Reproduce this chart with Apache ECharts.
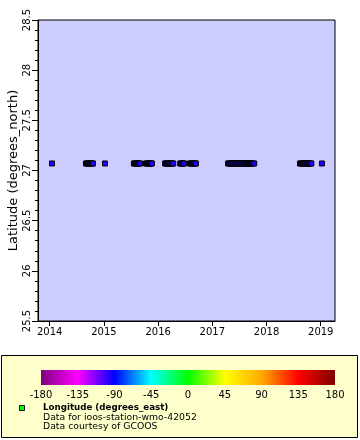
<!DOCTYPE html>
<html><head><meta charset="utf-8">
<script src="https://cdn.jsdelivr.net/npm/echarts@6/dist/echarts.min.js"></script>
<style>html,body{margin:0;padding:0;background:#fff}#c{width:360px;height:440px}</style>
</head><body><div id="c"></div>
<script>
const times = [
  '2014-01-16',
  '2014-09-02','2014-09-09','2014-09-16','2014-09-23','2014-09-30','2014-10-07','2014-10-14','2014-10-19',
  '2015-01-08',
  '2015-07-22','2015-07-29','2015-08-05','2015-08-12','2015-08-19','2015-08-26','2015-09-01',
  '2015-10-11','2015-10-18','2015-10-25','2015-11-01','2015-11-08','2015-11-15','2015-11-20',
  '2016-02-17','2016-02-24','2016-03-02','2016-03-09','2016-03-16','2016-03-23','2016-03-30','2016-04-06','2016-04-12',
  '2016-05-29','2016-06-05','2016-06-12','2016-06-19','2016-06-25',
  '2016-08-03','2016-08-10','2016-08-17','2016-08-24','2016-08-31','2016-09-07','2016-09-12',
  '2017-04-17','2017-04-24','2017-05-01','2017-05-08','2017-05-15','2017-05-22','2017-05-29','2017-06-05','2017-06-12',
  '2017-06-19','2017-06-26','2017-07-03','2017-07-10','2017-07-17','2017-07-24','2017-07-31','2017-08-07','2017-08-14',
  '2017-08-21','2017-08-28','2017-09-04','2017-09-11','2017-09-18','2017-09-25','2017-10-02','2017-10-10',
  '2018-08-14','2018-08-21','2018-08-28','2018-09-04','2018-09-11','2018-09-18','2018-09-25','2018-10-02','2018-10-09',
  '2018-10-16','2018-10-23','2018-10-30',
  '2019-01-09'
];
const latitudes = [
  27.07,
  27.07,27.07,27.07,27.07,27.07,27.07,27.07,27.07,
  27.07,
  27.07,27.07,27.07,27.07,27.07,27.07,27.07,
  27.07,27.07,27.07,27.07,27.07,27.07,27.07,
  27.07,27.07,27.07,27.07,27.07,27.07,27.07,27.07,27.07,
  27.07,27.07,27.07,27.07,27.07,
  27.07,27.07,27.07,27.07,27.07,27.07,27.07,
  27.07,27.07,27.07,27.07,27.07,27.07,27.07,27.07,27.07,
  27.07,27.07,27.07,27.07,27.07,27.07,27.07,27.07,27.07,
  27.07,27.07,27.07,27.07,27.07,27.07,27.07,27.07,
  27.07,27.07,27.07,27.07,27.07,27.07,27.07,27.07,27.07,
  27.07,27.07,27.07,
  27.07
];
const yearTicks = [2014, 2015, 2016, 2017, 2018, 2019];
const xRange = ['2013-10-14', '2019-04-07'];
const lonTicks = [-180, -135, -90, -45, 0, 45, 90, 135, 180];
const paletteColors = ['#800080','#ff00ff','#0000ff','#00ffff','#00ff00','#ffff00','#ffaa00','#ff0000','#800000'];
const legendTitle = 'Longitude (degrees_east)';
const legendLines = ['Data for ioos-station-wmo-42052', 'Data courtesy of GCOOS'];
const yTitle = 'Latitude (degrees_north)';

// date string -> decimal year
function decYear(s) {
  const [y, m, d] = s.split('-').map(Number);
  const start = Date.UTC(y, 0, 1), end = Date.UTC(y + 1, 0, 1);
  return y + (Date.UTC(y, m - 1, d) - start) / (end - start);
}

const FONT = 'DejaVu Sans';
const chart = echarts.init(document.getElementById('c'), null, {renderer: 'canvas'});
const gradient = new echarts.graphic.LinearGradient(0, 0, 1, 0,
  lonTicks.map((v, i) => ({offset: (v + 180) / 360, color: paletteColors[i]})));

chart.setOption({
  animation: false,
  backgroundColor: '#ffffff',
  textStyle: {fontFamily: FONT},
  grid: [
    {left: 38, top: 20, right: 25, bottom: 119, show: true, backgroundColor: '#ccccff', borderColor: '#000', borderWidth: 1, containLabel: false, outerBoundsMode: 'none'},
    {left: 41, top: 370, width: 294, height: 15, show: true, backgroundColor: gradient, borderColor: '#000', borderWidth: 0, containLabel: false, outerBoundsMode: 'none'}
  ],
  xAxis: [
    {
      type: 'value', gridIndex: 0,
      min: decYear(xRange[0]), max: decYear(xRange[1]),
      axisLine: {show: true, lineStyle: {color: '#000', width: 1}},
      axisTick: {show: true, length: 5, lineStyle: {color: '#000'}, customValues: yearTicks},
      axisLabel: {color: '#000', fontSize: 10, fontFamily: FONT, margin: 6, customValues: yearTicks,
        formatter: v => String(Math.round(v))},
      splitLine: {show: false}
    },
    {
      type: 'value', gridIndex: 1, min: -180, max: 180, interval: 45,
      axisLine: {show: false}, axisTick: {show: false}, splitLine: {show: false},
      axisLabel: {color: '#000', fontSize: 10, fontFamily: FONT, margin: 5}
    }
  ],
  yAxis: [
    {
      type: 'value', gridIndex: 0, min: 25.5, max: 28.5, interval: 0.5,
      name: yTitle, nameLocation: 'middle', nameRotate: 90, nameGap: 18, nameMoveOverlap: false,
      nameTextStyle: {color: '#000', fontSize: 13, fontFamily: FONT},
      axisLine: {show: true, lineStyle: {color: '#000', width: 1}},
      axisTick: {show: true, length: 6, lineStyle: {color: '#000'}},
      minorTick: {show: true, splitNumber: 5, length: 3, lineStyle: {color: '#000'}},
      axisLabel: {color: '#000', fontSize: 10, fontFamily: FONT, rotate: 90, margin: 6},
      splitLine: {show: false}, minorSplitLine: {show: false}
    },
    {type: 'value', gridIndex: 1, min: 0, max: 1, show: false}
  ],
  series: [{
    type: 'scatter', xAxisIndex: 0, yAxisIndex: 0,
    symbol: 'rect', symbolSize: 5,
    itemStyle: {color: '#2000ff', borderColor: '#000', borderWidth: 1, opacity: 1},
    emphasis: {disabled: true},
    data: times.map((t, i) => [decYear(t), latitudes[i]])
  }],
  graphic: [
    {type: 'rect', z: -10, shape: {x: 1.5, y: 355.5, width: 356, height: 82},
      style: {fill: '#ffffcc', stroke: '#000', lineWidth: 1}},
    {type: 'rect', z: 10, shape: {x: 19.5, y: 405.5, width: 5, height: 5},
      style: {fill: '#00ff00', stroke: '#000', lineWidth: 1}},
    {type: 'text', z: 10, x: 43, y: 408, style: {text: legendTitle, fill: '#000',
      font: 'bold 8.7px "DejaVu Sans"', verticalAlign: 'middle'}},
    {type: 'text', z: 10, x: 43, y: 418, style: {text: legendLines[0], fill: '#000',
      font: '9.3px "DejaVu Sans"', verticalAlign: 'middle'}},
    {type: 'text', z: 10, x: 43, y: 427, style: {text: legendLines[1], fill: '#000',
      font: '9.3px "DejaVu Sans"', verticalAlign: 'middle'}}
  ]
});
</script></body></html>
